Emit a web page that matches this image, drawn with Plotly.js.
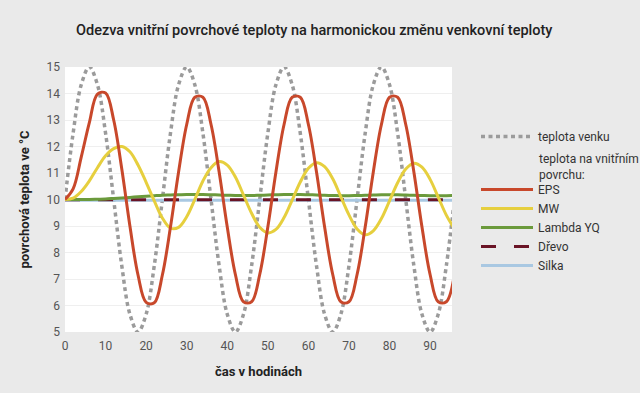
<!DOCTYPE html>
<html>
<head>
<meta charset="utf-8">
<script src="https://cdn.plot.ly/plotly-3.0.1.min.js"></script>
<style>html,body{margin:0;padding:0;background:#eaeaea;}#chart{width:640px;height:393px;}</style>
</head>
<body>
<div id="chart"></div>
<script>
// Hours (x values)
const hours = [0,2,4,6,8,10,12,14,16,18,20,22,24,26,28,30,32,34,36,38,40,42,44,46,48,50,52,54,56,58,60,62,64,66,68,70,72,74,76,78,80,82,84,86,88,90,92,94,96];

// teplota venku (outdoor temperature)
const venku = [10,12.5,14.33,15,14.33,12.5,10,7.5,5.67,5,5.67,7.5,
               10,12.5,14.33,15,14.33,12.5,10,7.5,5.67,5,5.67,7.5,
               10,12.5,14.33,15,14.33,12.5,10,7.5,5.67,5,5.67,7.5,
               10,12.5,14.33,15,14.33,12.5,10,7.5,5.67,5,5.67,7.5,
               10];

// EPS
const eps = [10.0,10.4,11.6,12.9,13.98,14.02,13.0,11.15,9.0,7.15,6.12,6.1,
             7.15,8.96,11.04,12.83,13.86,13.86,12.83,11.04,8.96,7.17,6.14,6.14,
             7.17,8.96,11.04,12.83,13.86,13.86,12.83,11.04,8.96,7.17,6.14,6.14,
             7.17,8.96,11.04,12.83,13.86,13.86,12.83,11.04,8.96,7.17,6.14,6.14,
             7.17];

// MW
const mw = [10.0,10.05,10.3,10.7,11.2,11.65,11.92,12.0,11.8,11.3,10.65,9.95,
            9.3,8.92,8.95,9.35,10.0,10.7,11.2,11.43,11.3,10.85,10.17,9.48,
            8.95,8.74,8.87,9.32,9.98,10.66,11.18,11.39,11.24,10.78,10.1,9.42,
            8.89,8.67,8.82,9.28,9.95,10.63,11.15,11.37,11.22,10.76,10.09,9.41,
            8.89];

// Lambda YQ
const lambdaYQ = [10.0,10.0,10.0,10.0,10.01,10.02,10.04,10.06,10.08,10.1,10.12,10.14,
                  10.16,10.17,10.18,10.19,10.19,10.19,10.18,10.17,10.16,10.15,10.15,10.15,
                  10.16,10.17,10.18,10.19,10.19,10.19,10.18,10.17,10.16,10.15,10.14,10.14,
                  10.15,10.16,10.17,10.18,10.18,10.18,10.17,10.16,10.15,10.14,10.14,10.14,
                  10.15];

// Dřevo and Silka (nearly constant)
const flatHours = [0,24,48,72,96];
const drevo = [9.99,9.99,9.99,9.99,9.99];
const silka = [9.97,9.97,9.97,9.97,9.97];

const FONT = 'Roboto, "Liberation Sans", sans-serif';

const traces = [
  {x: hours, y: venku, name: 'teplota venku', legendgroup: 'a', legendrank: 1,
   mode: 'lines', line: {color: '#9b9b9b', width: 3.5, dash: '4px,3.5px', shape: 'spline'}},
  {x: flatHours, y: silka, name: 'Silka', legendgroup: 'b', legendrank: 6,
   mode: 'lines', line: {color: '#a9c8e2', width: 3, shape: 'spline'}},
  {x: flatHours, y: drevo, name: 'Dřevo', legendgroup: 'b', legendrank: 5,
   mode: 'lines', line: {color: '#6a1426', width: 3, dash: '15px,18px', shape: 'spline'}},
  {x: hours, y: lambdaYQ, name: 'Lambda YQ', legendgroup: 'b', legendrank: 4,
   mode: 'lines', line: {color: '#6b9a3c', width: 3, shape: 'spline'}},
  {x: hours, y: mw, name: 'MW', legendgroup: 'b', legendrank: 3,
   mode: 'lines', line: {color: '#e6cf3e', width: 3, shape: 'spline'}},
  {x: hours, y: eps, name: 'EPS', legendgroup: 'b', legendrank: 2,
   mode: 'lines', line: {color: '#c8482b', width: 3, shape: 'spline'}}
];

const layout = {
  width: 640, height: 393,
  paper_bgcolor: '#eaeaea', plot_bgcolor: '#ffffff',
  margin: {l: 65, r: 188, t: 67, b: 61, pad: 0},
  font: {family: FONT, size: 12, color: '#444'},
  title: {text: 'Odezva vnitřní povrchové teploty na harmonickou změnu venkovní teploty',
          font: {family: FONT, size: 14.5, color: '#222', weight: 500},
          x: 0.491, xanchor: 'center', xref: 'container',
          y: 0.924, yanchor: 'middle', yref: 'container'},
  xaxis: {range: [0, 95.4], tickvals: [0,10,20,30,40,50,60,70,80,90], showgrid: false,
          zeroline: false, showline: false, ticks: '', fixedrange: true, ticklabelstandoff: 5,
          tickfont: {family: FONT, size: 12, color: '#555'},
          title: {text: 'čas v hodinách', standoff: 14,
                  font: {family: FONT, size: 13, color: '#222', weight: 'bold'}}},
  yaxis: {range: [5, 15], dtick: 1, showgrid: true, gridcolor: '#efefef', gridwidth: 1,
          zeroline: false, showline: false, ticks: '', fixedrange: true, ticklabelstandoff: 4,
          tickfont: {family: FONT, size: 12, color: '#555'},
          title: {text: 'povrchová teplota ve °C', standoff: 13,
                  font: {family: FONT, size: 13, color: '#222', weight: 'bold'}}},
  showlegend: true,
  legend: {x: 476/640, xref: 'container', xanchor: 'left',
           y: 1 - 122/393, yref: 'container', yanchor: 'top',
           bgcolor: 'rgba(0,0,0,0)', traceorder: 'grouped', tracegroupgap: 34,
           itemwidth: 52, font: {family: FONT, size: 12, color: '#333'}},
  annotations: [{text: 'teplota na vnitřním<br>povrchu:', xref: 'paper', yref: 'paper',
                 x: (537 - 65) / 387, y: (332 - 166.5) / 265, xanchor: 'left', yanchor: 'middle',
                 align: 'left', showarrow: false,
                 font: {family: FONT, size: 12, color: '#333'}}]
};

Plotly.newPlot('chart', traces, layout, {displayModeBar: false, staticPlot: true});
</script>
</body>
</html>
